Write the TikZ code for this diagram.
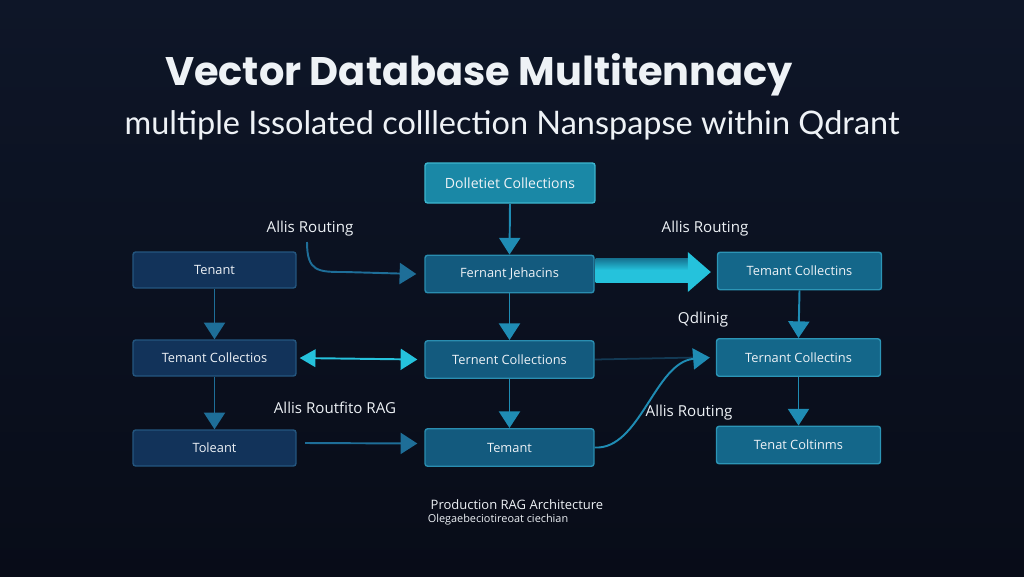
\documentclass[tikz,border=0pt]{standalone}
\usepackage{fontspec}
\usepackage{graphicx}
\setmainfont{Open Sans}
\newfontfamily\titlefont{Poppins}
\newfontfamily\subfont{Lato}
\usetikzlibrary{arrows.meta,calc}
\definecolor{bgtop}{HTML}{0E1628}
\definecolor{bgbot}{HTML}{080C18}
\definecolor{lfill}{HTML}{12335A}
\definecolor{ldraw}{HTML}{24567F}
\definecolor{mfill}{HTML}{135A7E}
\definecolor{mdraw}{HTML}{2A8DB0}
\definecolor{rfill}{HTML}{14678A}
\definecolor{rdraw}{HTML}{2C95B6}
\definecolor{tfill}{HTML}{1A88A6}
\definecolor{tdraw}{HTML}{3DB6CF}
\definecolor{conn}{HTML}{1E6E98}
\definecolor{connb}{HTML}{1F8CB4}
\definecolor{cyanb}{HTML}{25C2DC}
\definecolor{cyand}{HTML}{15708F}
\definecolor{txt}{HTML}{EEF2F6}
\tikzset{
  boxbase/.style={rectangle, rounded corners=1.5pt, line width=0.8pt, inner sep=0pt,
    text=txt, font=\fontsize{7.3}{9}\selectfont},
  lbox/.style={boxbase, fill=lfill, draw=ldraw, minimum width=3.26cm, minimum height=0.72cm},
  mbox/.style={boxbase, fill=mfill, draw=mdraw, minimum width=3.38cm, minimum height=0.75cm},
  rbox/.style={boxbase, fill=rfill, draw=rdraw, minimum width=3.28cm, minimum height=0.75cm},
  tbox/.style={boxbase, fill=tfill, draw=tdraw, minimum width=3.4cm, minimum height=0.8cm, font=\fontsize{8}{10}\selectfont},
  lbl/.style={text=txt, inner sep=0pt, font=\fontsize{8.6}{10}\selectfont},
  captxt/.style={text=txt, inner sep=0pt},
  arr/.style={draw=conn, line width=1.1pt, -{Triangle[length=9.5pt,width=12pt]}},
  arrb/.style={draw=connb, line width=1.1pt, -{Triangle[length=9.5pt,width=12pt]}},
}
\begin{document}
\begin{tikzpicture}[x=0.02cm,y=-0.02cm]
\useasboundingbox (0,0) rectangle (1024,576);
\shade[top color=bgtop, bottom color=bgbot] (0,0) rectangle (1024,576);

% title
\node[captxt] (title) at (479,75) {\resizebox{12.56cm}{!}{\titlefont\bfseries Vector Database Multitennacy}};
\node[captxt] (sub) at (512,125) {\resizebox{15.5cm}{!}{\subfont multiple Issolated colllection Nanspapse within Qdrant}};

% boxes
\node[tbox] (top) at (510,183) {Dolletiet Collections};
\node[lbox] (l1) at (214.5,270) {Tenant};
\node[lbox] (l2) at (214.5,358) {Temant Collectios};
\node[lbox] (l3) at (214.5,448) {Toleant};
\node[mbox] (m1) at (509.5,274) {Fernant Jehacins};
\node[mbox] (m2) at (509.5,359.5) {Ternent Collections};
\node[mbox] (m3) at (509.5,447.5) {Temant};
\node[rbox] (r1) at (799.5,271) {Temant Collectins};
\node[rbox] (r2) at (798.5,357.5) {Ternant Collectins};
\node[rbox] (r3) at (798.5,445) {Tenat Coltinms};

% labels
\node[lbl] (lbA) at (310,229) {Allis Routing};
\node[lbl] (lbB) at (705,229) {Allis Routing};
\node[lbl] (lbC) at (703,320) {Qdlinig};
\node[lbl] (lbD) at (335,408) {Allis Routfito RAG};
\node[lbl] (lbE) at (689,413) {Allis Routing};
\node[captxt, font=\fontsize{7.4}{9}\selectfont] (cap1) at (517,505) {Production RAG Architecture};
\node[captxt, font=\fontsize{6.2}{8}\selectfont] (cap2) at (498,520) {Olegaebeciotireoat ciechian};

% vertical connectors
\draw[arrb] (top.south) -- (m1.north);
\draw[arrb] (m1.south) -- (m2.north);
\draw[arrb] (m2.south) -- (m3.north);
\draw[arr] (l1.south) -- (l2.north);
\draw[arr] (l2.south) -- (l3.north);
\draw[arrb] (r1.south) -- (r2.north);
\draw[arrb] (r2.south) -- (r3.north);

% curved alias routing arrow
\coordinate (ca) at (307,242);
\draw[arr] (ca) .. controls (307,272) and (318,272) .. (345,272) -- ($(m1.west)+(-8,0)$);

% big gradient arrow: shaft and head
\shade[top color=cyand, bottom color=cyanb, middle color=cyanb]
  ($(m1.east)+(1,-16)$) rectangle ($(r1.west)+(-29,11)$);
\fill[cyanb] ($(r1.west)+(-29,-19)$) -- ($(r1.west)+(-6,1)$) -- ($(r1.west)+(-29,21)$) -- cycle;

% double arrow
\draw[draw=cyanb, line width=1.1pt, {Triangle[length=9pt,width=10pt]}-{Triangle[length=9.5pt,width=12pt]}]
  ($(l2.east)+(3,0)$) -- ($(m2.west)+(-7,0)$);

% l3 -> m3
\coordinate (cs) at (305,443);
\draw[arr] (cs) -- ($(m3.west)+(-7,-4)$);

% faint line m2 -> r2 and curve m3 -> r2
\draw[draw=conn, line width=1pt, opacity=0.45] (m2.east) -- ($(r2.west)+(-20,0)$);
\draw[arrb] (m3.east) .. controls (640,450) and (655,362) .. ($(r2.west)+(-6,0)$);
\end{tikzpicture}
\end{document}
